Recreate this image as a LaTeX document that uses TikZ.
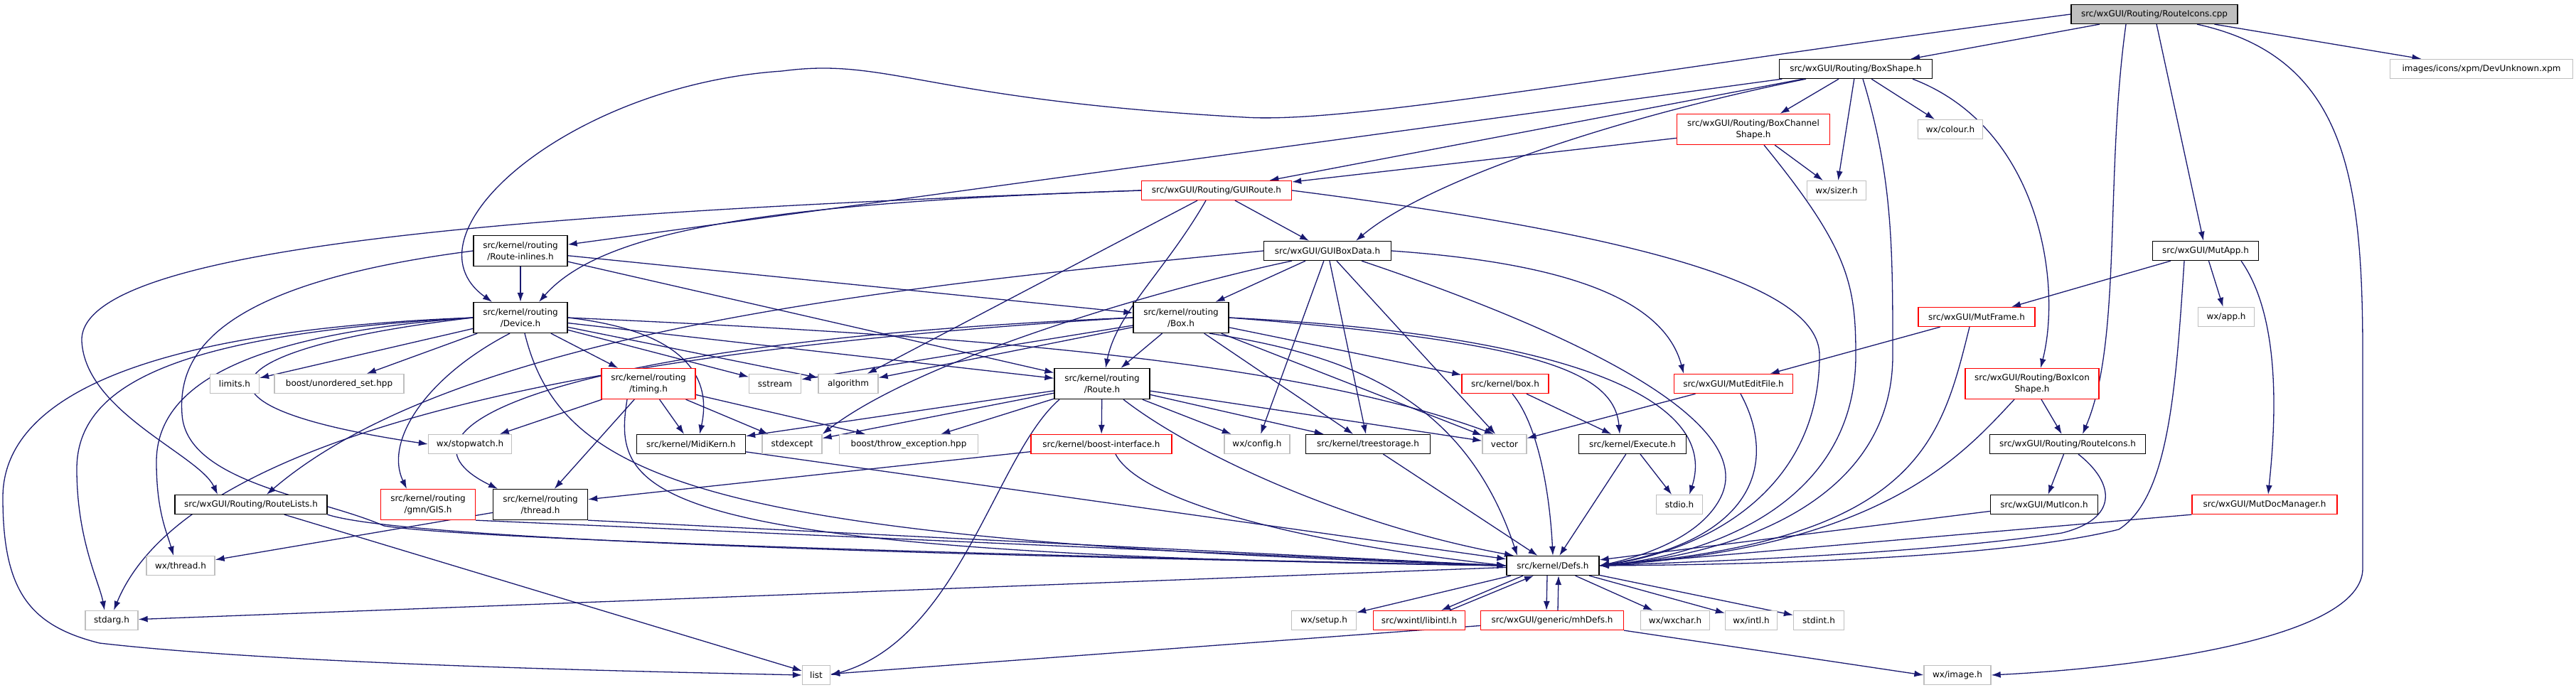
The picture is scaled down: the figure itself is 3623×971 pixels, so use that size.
\documentclass[tikz,border=0pt]{standalone}
\usepackage{fontspec}
\setmainfont{DejaVu Sans}
\usetikzlibrary{arrows.meta,backgrounds}
\definecolor{depblue}{HTML}{191970}
\definecolor{hdrred}{HTML}{FF0000}
\definecolor{hdrgray}{HTML}{BFBFBF}
\tikzset{
  hdr/.style={draw, fill=white, align=center, font=\fontsize{12}{16}\selectfont, minimum height=27pt, inner sep=1pt, line width=1.3pt},
  doc/.style={hdr, draw=black},
  trunc/.style={hdr, draw=hdrred},
  sys/.style={hdr, draw=hdrgray},
  root/.style={hdr, draw=black, fill=hdrgray},
  two/.style={minimum height=43pt},
  dep/.style={-{Latex[length=13pt,width=9pt]}, line width=1.3pt, color=depblue},
}
\begin{document}
\begin{tikzpicture}[x=1pt, y=-1pt]
  \useasboundingbox (0,0) rectangle (3623,971);
  % top rows
  \node[root, minimum width=234pt] (cpp) at (3030,20) {src/wxGUI/Routing/RouteIcons.cpp};
  \node[doc, minimum width=215pt] (boxshape) at (2610,97) {src/wxGUI/Routing/BoxShape.h};
  \node[sys, minimum width=257pt] (devunk) at (3490,97) {images/icons/xpm/DevUnknown.xpm};
  \node[trunc, two, minimum width=215pt] (chshape) at (2466,182) {src/wxGUI/Routing/BoxChannel\\Shape.h};
  \node[sys, minimum width=91pt] (colour) at (2743,182) {wx/colour.h};
  \node[sys, minimum width=83pt] (sizer) at (2583,268) {wx/sizer.h};
  \node[trunc, minimum width=211pt] (guiroute) at (1711,268) {src/wxGUI/Routing/GUIRoute.h};
  \node[doc, two, minimum width=132pt] (inlines) at (732,353) {src/kernel/routing\\/Route-inlines.h};
  \node[doc, minimum width=179pt] (boxdata) at (1867,353) {src/wxGUI/GUIBoxData.h};
  \node[doc, minimum width=149pt] (mutapp) at (3102,353) {src/wxGUI/MutApp.h};
  \node[doc, two, minimum width=132pt] (device) at (732,447) {src/kernel/routing\\/Device.h};
  \node[doc, two, minimum width=134pt] (box) at (1661,447) {src/kernel/routing\\/Box.h};
  \node[trunc, minimum width=164pt] (mutframe) at (2780,446) {src/wxGUI/MutFrame.h};
  \node[sys, minimum width=79pt] (app) at (3131,446) {wx/app.h};
  % row 540
  \node[sys, minimum width=69pt] (limits) at (330,540) {limits.h};
  \node[sys, minimum width=182pt] (uset) at (477,540) {boost/unordered\_set.hpp};
  \node[trunc, two, minimum width=132pt] (timing) at (912,540) {src/kernel/routing\\/timing.h};
  \node[sys, minimum width=73pt] (sstream) at (1090,540) {sstream};
  \node[sys, minimum width=84pt] (algorithm) at (1193,540) {algorithm};
  \node[doc, two, minimum width=134pt] (route) at (1550,540) {src/kernel/routing\\/Route.h};
  \node[trunc, minimum width=122pt] (kbox) at (2117,540) {src/kernel/box.h};
  \node[trunc, minimum width=167pt] (editfile) at (2438,540) {src/wxGUI/MutEditFile.h};
  \node[trunc, two, minimum width=188pt] (iconshape) at (2858,540) {src/wxGUI/Routing/BoxIcon\\Shape.h};
  % row 625
  \node[sys, minimum width=117pt] (stopwatch) at (661,625) {wx/stopwatch.h};
  \node[doc, minimum width=153pt] (midikern) at (972,625) {src/kernel/MidiKern.h};
  \node[sys, minimum width=84pt] (stdexcept) at (1114,625) {stdexcept};
  \node[sys, minimum width=195pt] (throwex) at (1278,625) {boost/throw\_exception.hpp};
  \node[trunc, minimum width=198pt] (boostif) at (1549,625) {src/kernel/boost-interface.h};
  \node[sys, minimum width=92pt] (config) at (1768,625) {wx/config.h};
  \node[doc, minimum width=175pt] (treestorage) at (1924,625) {src/kernel/treestorage.h};
  \node[sys, minimum width=62pt] (vector) at (2116,625) {vector};
  \node[doc, minimum width=151pt] (execute) at (2296,625) {src/kernel/Execute.h};
  \node[doc, minimum width=219pt] (routeicons) at (2908,625) {src/wxGUI/Routing/RouteIcons.h};
  % row 710
  \node[doc, minimum width=214pt] (routelists) at (353,710) {src/wxGUI/Routing/RouteLists.h};
  \node[trunc, two, minimum width=133pt] (gis) at (602,710) {src/kernel/routing\\/gmn/GIS.h};
  \node[doc, two, minimum width=133pt] (thread) at (760,710) {src/kernel/routing\\/thread.h};
  \node[sys, minimum width=65pt] (stdio) at (2362,710) {stdio.h};
  \node[doc, minimum width=151pt] (muticon) at (2875,710) {src/wxGUI/MutIcon.h};
  \node[trunc, minimum width=204pt] (docmgr) at (3185,710) {src/wxGUI/MutDocManager.h};
  % bottom rows
  \node[sys, minimum width=96pt] (wxthread) at (254,796) {wx/thread.h};
  \node[doc, minimum width=130pt] (defs) at (2184,796) {src/kernel/Defs.h};
  \node[sys, minimum width=74pt] (stdarg) at (157,873) {stdarg.h};
  \node[sys, minimum width=91pt] (setup) at (1862,873) {wx/setup.h};
  \node[trunc, minimum width=129pt] (libintl) at (1996,873) {src/wxintl/libintl.h};
  \node[trunc, minimum width=201pt] (mhdefs) at (2183,873) {src/wxGUI/generic/mhDefs.h};
  \node[sys, minimum width=97pt] (wxchar) at (2356,873) {wx/wxchar.h};
  \node[sys, minimum width=73pt] (intl) at (2463,873) {wx/intl.h};
  \node[sys, minimum width=71pt] (stdint) at (2558,873) {stdint.h};
  \node[sys, minimum width=39pt] (list) at (1148,950) {list};
  \node[sys, minimum width=94pt] (image) at (2753,950) {wx/image.h};

  \begin{scope}[on background layer]
    % straight includes
    \foreach \a/\b in {cpp/boxshape, cpp/devunk, cpp/mutapp,
        boxshape/chshape, boxshape/colour, boxshape/sizer, boxshape/guiroute, boxshape/inlines,
        chshape/guiroute, chshape/sizer, guiroute/boxdata, guiroute/algorithm,
        inlines/device, inlines/box, inlines/route,
        boxdata/box, boxdata/config, boxdata/treestorage, boxdata/vector,
        mutapp/mutframe, mutapp/app,
        device/limits, device/uset, device/timing, device/sstream, device/algorithm, device/route,
        box/route, box/treestorage, box/vector, box/kbox, box/sstream, box/algorithm,
        mutframe/editfile,
        timing/stopwatch, timing/midikern, timing/stdexcept, timing/throwex, timing/thread,
        route/midikern, route/stdexcept, route/throwex, route/boostif, route/config, route/treestorage, route/vector,
        kbox/execute, editfile/vector, iconshape/routeicons, routeicons/muticon, execute/stdio,
        boostif/thread, thread/wxthread, routelists/list,
        midikern/defs, treestorage/defs, execute/defs, muticon/defs,
        defs/stdarg, defs/setup, defs/wxchar, defs/intl, defs/stdint, mhdefs/list}
      \draw[dep] (\a) -- (\b);
    \draw[dep] (gis.south east) -- (defs.west);
    \draw[dep] (thread.south east) -- (defs.west);
    \draw[dep] (docmgr.south west) -- (defs.east);
    \draw[dep] (mhdefs.south east) -- (image.west);
    \draw[dep] ([xshift=-42]defs.south) -- ([xshift=31]libintl.north);
    \draw[dep] ([xshift=43]libintl.north) -- ([xshift=-27]defs.south);
    \draw[dep] ([xshift=-8]defs.south) -- ([xshift=-8]mhdefs.north);
    \draw[dep] ([xshift=8]mhdefs.north) -- ([xshift=8]defs.south);
    % curved includes
    \draw[dep] (cpp.west) .. controls (2300,100) and (1900,175) .. (1750,165)
      .. controls (1300,140) and (1250,80) .. (1100,100)
      .. controls (800,120) and (560,330) .. ([xshift=-40]device.north);
    \draw[dep] ([xshift=-40]cpp.south) .. controls (2960,250) and (2985,480) .. ([xshift=21]routeicons.north);
    \draw[dep] ([xshift=60]cpp.south) .. controls (3300,80) and (3323,250) .. (3323,500) -- (3323,800)
      .. controls (3323,900) and (3000,940) .. (image.east);
    \draw[dep] ([xshift=-70]boxshape.south) .. controls (2250,170) and (2000,260) .. ([xshift=40]boxdata.north);
    \draw[dep] ([xshift=80]boxshape.south) .. controls (2870,180) and (2900,400) .. ([xshift=12]iconshape.north);
    \draw[dep] ([xshift=10]boxshape.south) .. controls (2662,250) and (2662,350) .. (2662,500)
      .. controls (2662,700) and (2450,780) .. (defs.east);
    \draw[dep] ([xshift=15]chshape.south) .. controls (2600,350) and (2610,400) .. (2610,500)
      .. controls (2610,700) and (2420,780) .. (defs.east);
    \draw[dep] (guiroute.east) .. controls (2300,330) and (2559,400) .. (2559,500)
      .. controls (2559,690) and (2400,775) .. (defs.east);
    \draw[dep] (guiroute.west) .. controls (1100,285) and (850,320) .. ([xshift=26]device.north);
    \draw[dep] (guiroute.west) .. controls (700,300) and (110,350) .. (115,480)
      .. controls (120,580) and (280,640) .. ([xshift=-47]routelists.north);
    \draw[dep] ([xshift=-15]guiroute.south) .. controls (1640,380) and (1570,440) .. ([xshift=5]route.north);
    \draw[dep] ([xshift=-50]boxdata.south) .. controls (1660,400) and (1300,500) .. (stdexcept.north east);
    \draw[dep] (boxdata.west) .. controls (1300,400) and (650,460) .. ([xshift=22]routelists.north);
    \draw[dep] (boxdata.east) .. controls (2200,370) and (2340,420) .. ([xshift=-70]editfile.north);
    \draw[dep] ([xshift=48]boxdata.south) .. controls (2250,480) and (2470,600) .. (2420,700)
      .. controls (2390,760) and (2300,785) .. (defs.east);
    \draw[dep] (inlines.west) .. controls (300,400) and (250,500) .. (256,583)
      .. controls (262,680) and (450,700) .. (540,740)
      .. controls (700,765) and (1800,790) .. (defs.west);
    \draw[dep] (device.west) .. controls (200,465) and (4,560) .. (4,700)
      .. controls (4,830) and (40,880) .. (140,905)
      .. controls (400,935) and (900,945) .. (list.west);
    \draw[dep] (device.west) .. controls (250,470) and (108,540) .. (108,660)
      .. controls (108,760) and (140,820) .. ([xshift=-10]stdarg.north);
    \draw[dep] (device.west) .. controls (350,470) and (220,540) .. (220,650)
      .. controls (220,720) and (235,750) .. ([xshift=-10]wxthread.north);
    \draw[dep] (device.west) .. controls (300,490) and (230,570) .. (stopwatch.west);
    \draw[dep] ([xshift=-15]device.south) .. controls (600,530) and (540,620) .. ([xshift=-30]gis.north);
    \draw[dep] (device.east) .. controls (1000,470) and (995,560) .. ([xshift=12]midikern.north);
    \draw[dep] (device.east) .. controls (1300,470) and (1800,500) .. ([xshift=-15]vector.north);
    \draw[dep] ([xshift=6]device.south) .. controls (790,680) and (1000,760) .. (defs.west);
    \draw[dep] ([xshift=-30]timing.south) .. controls (860,700) and (900,780) .. (defs.west);
    \draw[dep] (box.west) .. controls (700,500) and (250,640) .. ([xshift=3]stdarg.north);
    \draw[dep] (box.west) .. controls (800,480) and (520,600) .. ([xshift=-60]thread.north);
    \draw[dep] (box.east) .. controls (2150,480) and (2270,520) .. ([xshift=-18]execute.north);
    \draw[dep] (box.east) .. controls (2200,470) and (2420,560) .. ([xshift=14]stdio.north);
    \draw[dep] ([xshift=40]box.south) .. controls (1900,500) and (2060,560) .. ([xshift=-50]defs.north);
    \draw[dep] ([xshift=30]route.south) .. controls (1680,640) and (1900,740) .. ([xshift=-55]defs.north);
    \draw[dep] ([xshift=-60]route.south) .. controls (1400,640) and (1350,900) .. (list.east);
    \draw[dep] ([xshift=20]boostif.south) .. controls (1600,700) and (1800,760) .. (defs.west);
    \draw[dep] ([xshift=10]kbox.south) .. controls (2165,600) and (2180,700) .. (defs.north);
    \draw[dep] (routelists.south east) .. controls (600,770) and (1800,790) .. (defs.west);
    \draw[dep] ([xshift=10]editfile.south) .. controls (2500,650) and (2470,760) .. (defs.east);
    \draw[dep] ([xshift=-10]mutframe.south) .. controls (2730,620) and (2700,760) .. (defs.east);
    \draw[dep] ([xshift=-25]iconshape.south) .. controls (2760,640) and (2650,770) .. (defs.east);
    \draw[dep] ([xshift=15]routeicons.south) .. controls (2975,680) and (2980,730) .. (2900,750)
      .. controls (2700,780) and (2400,790) .. (defs.east);
    \draw[dep] ([xshift=-30]mutapp.south) .. controls (3060,550) and (3050,700) .. (2980,745)
      .. controls (2800,790) and (2400,795) .. (defs.east);
    \draw[dep] ([xshift=50]mutapp.south) .. controls (3210,450) and (3200,600) .. ([xshift=5]docmgr.north);
  \end{scope}
\end{tikzpicture}
\end{document}
